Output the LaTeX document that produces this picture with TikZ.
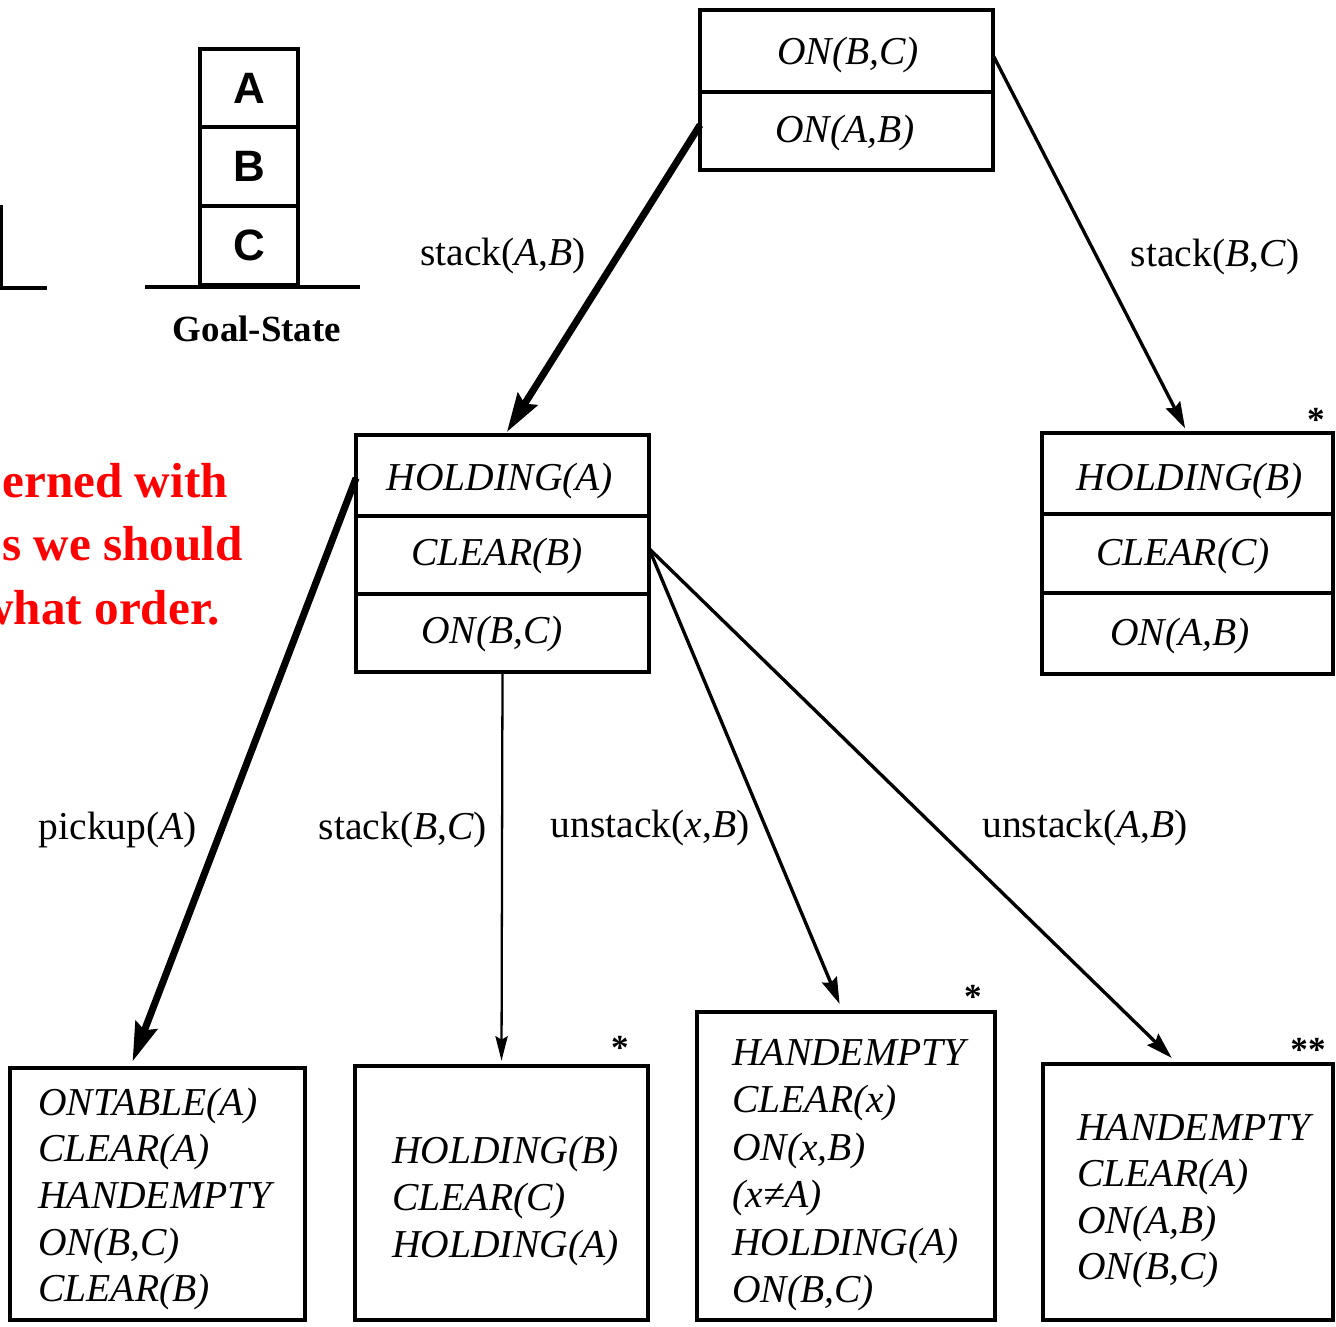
\documentclass[tikz,border=0pt]{standalone}
\usepackage{fontspec}
\setmainfont{Liberation Serif}
\newfontfamily\blocksans{Liberation Sans}
\usetikzlibrary{arrows.meta}
\definecolor{notered}{RGB}{255,0,0}

\begin{document}
\begin{tikzpicture}[x=0.02cm, y=-0.02cm,
  cellbox/.style={draw, line width=2.4pt, inner sep=0pt, outer sep=0pt},
  listbox/.style={draw, line width=2.1pt, inner sep=0pt, outer sep=0pt},
  blockbox/.style={draw, line width=2.3pt, inner sep=0pt, outer sep=0pt,
    minimum width=1.96cm, font=\blocksans\bfseries\fontsize{25}{30}\selectfont},
  fact/.style={font=\fontsize{22.5}{26.5}\selectfont\itshape, inner sep=0pt},
  factlist/.style={fact, align=left, anchor=west},
  oplabel/.style={font=\fontsize{22.5}{26}\selectfont, inner sep=0pt},
  starmark/.style={font=\bfseries\fontsize{20}{24}\selectfont, inner sep=0pt},
  notetext/.style={font=\bfseries\fontsize{28}{34}\selectfont, text=notered,
    inner sep=0pt, anchor=base west},
  heavy/.style={line width=4pt, -{Stealth[length=22pt,width=13pt,inset=3pt]}},
  medium/.style={line width=1.9pt, -{Stealth[length=15pt,width=9pt,inset=2pt]}},
  light/.style={line width=1.3pt, -{Stealth[length=14pt,width=7pt,inset=2pt]}}
]
\useasboundingbox (0,0) rectangle (1336,1326);
\clip (0,0) rectangle (1336,1326);

% ---- goal-state block stack ----
\draw[line width=2pt] (1,205) -- (1,288) -- (47,288);
\node[blockbox, minimum height=1.56cm] (blkA) at (249,88) {A};
\node[blockbox, minimum height=1.58cm] (blkB) at (249,166.5) {B};
\node[blockbox, minimum height=1.58cm] (blkC) at (249,245.5) {C};
\draw[line width=2.3pt] (145,287) -- (360,287);
\node[font=\bfseries\fontsize{21}{25}\selectfont, inner sep=0pt, anchor=base]
  (goal) at (257,341) {Goal-State};

% ---- note text (runs on past the left edge) ----
\node[notetext] (n1) at (2,497) {erned with};
\node[notetext] (n2) at (2,560) {s we should};
\node[notetext] (n3) at (-22,624) {what order.};

% ---- goal node ----
\node[cellbox, minimum width=5.86cm, minimum height=3.2cm] (top) at (846.5,90) {};
\draw[line width=2.4pt] (700,92) -- (993,92);
\node[fact] (t1) at (848,55) {ON(B,C)};
\node[fact] (t2) at (845,133) {ON(A,B)};

% ---- stack(A,B) subgoal ----
\node[cellbox, minimum width=5.86cm, minimum height=4.74cm] (ml) at (502.5,553.5) {};
\draw[line width=2.4pt] (356,516) -- (649,516);
\draw[line width=2.4pt] (356,594) -- (649,594);
\node[fact] (ml1) at (500,481) {HOLDING(A)};
\node[fact] (ml2) at (497,556) {CLEAR(B)};
\node[fact] (ml3) at (492,634) {ON(B,C)};

% ---- stack(B,C) subgoal ----
\node[cellbox, minimum width=5.82cm, minimum height=4.82cm] (mr) at (1187.5,553.5) {};
\draw[line width=2.4pt] (1042,514) -- (1333,514);
\draw[line width=2.4pt] (1042,593) -- (1333,593);
\node[fact] (mr1) at (1190,481) {HOLDING(B)};
\node[fact] (mr2) at (1183,556) {CLEAR(C)};
\node[fact] (mr3) at (1180,636) {ON(A,B)};
\node[starmark] (s1) at (1316,420) {*};

% ---- leaf nodes ----
\node[listbox, minimum width=5.9cm, minimum height=5.04cm] (b1) at (157.5,1194) {};
\node[factlist] (b1t) at (38,1199)
  {ONTABLE(A)\\CLEAR(A)\\HANDEMPTY\\ON(B,C)\\CLEAR(B)};

\node[listbox, minimum width=5.86cm, minimum height=5.08cm] (b2) at (501.5,1193) {};
\node[factlist] (b2t) at (392,1201) {HOLDING(B)\\CLEAR(C)\\HOLDING(A)};
\node[starmark] (s2) at (620,1048) {*};

\node[listbox, minimum width=5.96cm, minimum height=6.16cm] (b3) at (846,1166) {};
\node[factlist, font=\fontsize{22.5}{27}\selectfont\itshape] (b3t) at (732,1175)
  {HANDEMPTY\\CLEAR(x)\\ON(x,B)\\(x≠A)\\HOLDING(A)\\ON(B,C)};
\node[starmark] (s3) at (973,997) {*};

\node[listbox, minimum width=5.8cm, minimum height=5.12cm] (b4) at (1188,1192) {};
\node[factlist] (b4t) at (1077,1201) {HANDEMPTY\\CLEAR(A)\\ON(A,B)\\ON(B,C)};
\node[starmark] (s4) at (1308,1050) {**};

% ---- operator arrows ----
\draw[heavy, shorten >=2pt] ([yshift=-0.7cm]top.west) -- ([xshift=0.05cm]ml.north);
\draw[medium, shorten >=3pt] ([yshift=0.7cm]top.east) -- (mr.north);
\draw[heavy, shorten >=4pt] ([yshift=1.51cm]ml.west) -- ([xshift=-0.55cm]b1.north);
\draw[light, shorten >=3pt] (ml.south) -- (b2.north);
\draw[medium, shorten >=5pt] ([yshift=0.1cm]ml.east) -- ([xshift=-0.06cm]b3.north);
\draw[medium, shorten >=5pt] ([yshift=0.1cm]ml.east) -- ([xshift=-0.2cm]b4.north);

% ---- operator labels ----
\node[oplabel] (l1) at (503,256) {stack(\textit{A},\textit{B})};
\node[oplabel] (l2) at (1215,257) {stack(\textit{B},\textit{C})};
\node[oplabel] (l3) at (118,830) {pickup(\textit{A})};
\node[oplabel] (l4) at (403,830) {stack(\textit{B},\textit{C})};
\node[oplabel] (l5) at (650,828) {unstack(\textit{x},\textit{B})};
\node[oplabel] (l6) at (1085,828) {unstack(\textit{A},\textit{B})};
\end{tikzpicture}
\end{document}
